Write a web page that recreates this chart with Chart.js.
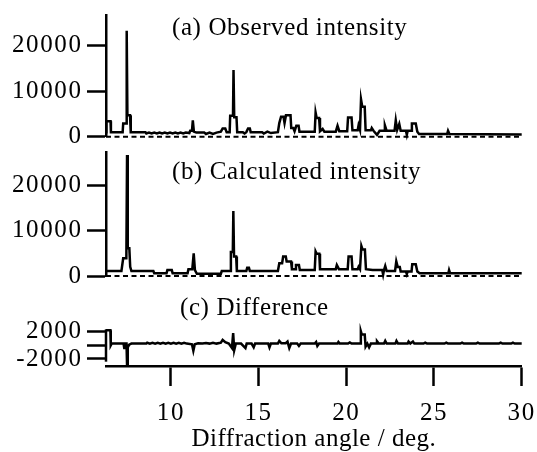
<!DOCTYPE html>
<html>
<head>
<meta charset="utf-8">
<script src="https://cdn.jsdelivr.net/npm/chart.js@4"></script>
<style>
html,body{margin:0;padding:0;background:#fff;}
#wrap{position:relative;width:537px;height:452px;overflow:hidden;background:#fff;}
canvas{position:absolute;left:0;}
</style>
</head>
<body>
<div id="wrap">
<canvas id="ca" width="537" height="150" style="top:0px;width:537px;height:150px"></canvas>
<canvas id="cb" width="537" height="140" style="top:145px;width:537px;height:140px"></canvas>
<canvas id="cc" width="537" height="167" style="top:285px;width:537px;height:167px"></canvas>
</div>
<script>
// ---- data ----
const angleMin = 6.3, angleMax = 30;
const angleTicks = [10, 15, 20, 25, 30];
const intensityTicks = [0, 10000, 20000];
const diffTicks = [-2000, 0, 2000];
const panelTitles = ['(a) Observed intensity', '(b) Calculated intensity', '(c) Difference'];
const axisTitle = 'Diffraction angle / deg.';

const obsAngle = [6.30,6.32,6.56,6.58,7.25,7.28,7.45,7.48,7.52,7.67,7.71,8.55,8.60,8.75,8.90,9.05,9.20,9.35,9.50,9.65,9.80,9.95,10.10,10.25,10.40,10.55,10.70,10.85,11.05,11.10,11.20,11.25,11.31,11.45,11.90,12.00,12.20,12.40,12.60,12.85,12.95,13.10,13.18,13.35,13.38,13.54,13.57,13.61,13.74,13.78,14.10,14.20,14.30,14.40,14.50,14.55,15.20,15.30,15.50,15.70,16.10,16.18,16.28,16.42,16.48,16.56,16.82,16.86,16.98,17.05,17.15,17.28,17.33,18.20,18.25,18.31,18.45,18.50,18.65,18.75,19.40,19.50,19.60,20.05,20.10,20.30,20.35,20.65,20.70,20.78,20.84,20.91,21.05,21.10,21.40,21.45,21.55,21.75,21.90,22.15,22.20,22.30,22.75,22.82,22.90,23.02,23.10,23.40,23.45,23.50,23.70,23.74,23.96,24.05,24.15,25.75,25.80,25.88,30.00];
const obsIntensity = [1000,3400,3400,1000,1000,2900,2900,23300,4700,4700,1000,1000,700,900,700,900,700,900,700,900,700,900,700,900,700,900,700,900,800,1300,1300,3600,1100,900,900,600,900,600,900,1100,1800,1800,1000,1000,4600,4600,14650,4300,4300,1000,1000,700,1000,1800,1800,1000,1000,700,1100,800,1000,3000,4400,4400,3000,4700,4700,1900,1900,1200,2400,2400,1100,1100,5300,4100,4100,1200,1700,1100,1100,2400,1200,1200,4200,4200,1400,1400,2500,1500,8200,6600,6600,1400,1400,1900,1300,400,1300,1300,2500,1300,1300,3600,1500,2800,1300,1300,400,1300,1300,2900,2900,1100,600,600,1300,600,500];

const calcAngle = [6.30,7.18,7.28,7.46,7.50,7.54,7.63,7.68,7.75,9.00,9.05,9.75,9.80,10.05,10.10,10.95,11.00,11.22,11.30,11.37,11.48,12.85,12.90,13.38,13.42,13.53,13.56,13.60,13.72,13.76,14.30,14.35,14.45,14.50,16.10,16.18,16.34,16.40,16.55,16.60,16.85,16.90,17.08,17.13,17.30,17.35,18.20,18.25,18.31,18.46,18.50,19.40,19.46,19.58,20.08,20.13,20.30,20.35,20.65,20.70,20.78,20.86,20.93,21.06,21.12,21.50,22.05,22.10,22.15,22.22,22.30,22.78,22.85,22.93,23.05,23.10,23.40,23.45,23.50,23.72,23.76,23.96,24.05,24.18,25.82,25.86,25.92,30.00];
const calcIntensity = [1100,1100,3900,3900,26600,6100,6100,2000,1100,1100,600,600,1300,1300,600,600,1500,1500,5000,1300,500,500,1100,1100,5300,5300,14300,4300,4300,1100,1100,1800,1800,1100,1100,2800,2800,4300,4300,3200,3200,1500,1500,2400,2400,1300,1300,5400,4900,4900,1500,1500,2400,1500,1500,4300,4300,1500,1500,2000,1500,6600,5800,5800,1500,1300,1300,300,1300,2200,1100,1100,3200,2000,2000,1000,1000,400,1000,1000,2600,2600,1000,600,600,1300,600,600];

const diffAngle = [6.30,6.55,6.57,6.62,7.30,7.34,7.38,7.47,7.50,7.54,7.62,7.75,8.60,8.65,8.80,8.95,9.10,9.25,9.40,9.55,9.70,9.85,10.00,10.15,10.30,10.45,10.60,10.75,10.90,11.20,11.28,11.36,11.55,11.80,12.00,12.20,12.40,12.60,12.85,12.95,13.10,13.30,13.48,13.55,13.61,13.70,14.00,14.25,14.32,14.60,14.72,14.80,15.55,15.62,15.70,16.10,16.18,16.30,16.55,16.65,16.75,16.85,17.20,17.30,17.40,18.20,18.28,18.35,18.45,19.50,19.55,19.62,20.10,20.20,20.30,20.80,20.83,20.88,21.05,21.10,21.20,21.30,21.40,21.70,21.75,21.85,22.15,22.22,22.30,22.80,22.86,22.95,23.50,23.55,23.65,23.80,23.88,24.40,24.50,24.60,25.60,25.70,25.80,26.50,26.60,26.70,27.40,27.50,27.60,28.70,28.80,28.90,29.40,29.50,29.60,30.00];
const diffValue = [2200,2200,0,250,250,-400,250,250,-2900,-300,100,250,250,380,250,380,250,380,250,380,250,380,250,380,250,380,250,380,250,150,-800,150,300,250,350,250,380,250,380,800,450,250,-400,1800,-700,250,250,-400,250,250,-300,250,250,-300,250,250,650,300,300,550,-400,250,250,-100,250,250,480,-100,250,250,480,250,250,420,250,250,2050,1600,1600,-200,250,-300,250,250,600,250,250,650,250,250,650,250,250,550,250,550,250,250,400,250,250,400,250,250,400,250,250,400,250,250,400,250,250,400,250,250];

// ---- helpers ----
const FONT = 'Liberation Serif';
const pts = (xs, ys) => xs.map((x, i) => ({x: x, y: ys[i]}));

const spacing = {
  id: 'spacing',
  beforeDraw(chart) { chart.ctx.letterSpacing = '1.6px'; },
  afterDatasetsDraw(chart) { chart.ctx.letterSpacing = '0.5px'; }
};

const panelText = {
  id: 'panelText',
  afterDraw(chart, args, opts) {
    const ctx = chart.ctx;
    ctx.save();
    ctx.letterSpacing = '0.6px';
    ctx.font = '25px "' + FONT + '"';
    ctx.fillStyle = '#000';
    ctx.textBaseline = 'alphabetic';
    ctx.textAlign = 'left';
    ctx.fillText(opts.text, opts.x, opts.y);
    ctx.restore();
    ctx.letterSpacing = '0px';
  }
};

const leftAxisLine = {
  id: 'leftAxisLine',
  beforeDatasetsDraw(chart, args, opts) {
    if (!opts.draw) return;
    const s = chart.scales.y;
    const ctx = chart.ctx;
    ctx.save();
    ctx.strokeStyle = '#000';
    ctx.lineWidth = 2.5;
    ctx.beginPath();
    ctx.moveTo(s.right, s.getPixelForValue(opts.from));
    ctx.lineTo(s.right, s.getPixelForValue(opts.to));
    ctx.stroke();
    ctx.restore();
  }
};

function yAxis(min, max, tickVals, showBorder, hideZeroLabel) {
  return {
    type: 'linear', min: min, max: max,
    afterFit(s) { s.width = 106; s.paddingTop = 0; s.paddingBottom = 0; },
    afterBuildTicks(s) { s.ticks = tickVals.map(v => ({value: v})); },
    grid: {drawOnChartArea: false, drawTicks: true, tickLength: 19, tickWidth: 2.5, tickColor: '#000'},
    border: {display: showBorder, color: '#000', width: 2.5},
    ticks: {
      color: '#000', padding: 4.5, autoSkip: false,
      font: {family: FONT, size: 25, lineHeight: 1},
      callback: v => (hideZeroLabel && v === 0) ? '' : String(v)
    }
  };
}

function xAxis(show) {
  return {
    type: 'linear', min: angleMin, max: angleMax, display: show, z: 1,
    afterBuildTicks(s) { s.ticks = angleTicks.map(v => ({value: v})); },
    afterFit(s) { if (show) { s.height = 85.3; } s.paddingLeft = 0; s.paddingRight = 0; },
    grid: {z: 1, drawOnChartArea: false, drawTicks: true, tickLength: 19.3, tickWidth: 2.5, tickColor: '#000'},
    border: {z: 1, display: true, color: '#000', width: 2.5},
    ticks: {
      color: '#000', padding: 15, autoSkip: false, maxRotation: 0,
      font: {family: FONT, size: 25, lineHeight: 1},
      callback: v => String(v)
    },
    title: {
      display: show, text: axisTitle, color: '#000',
      font: {family: FONT, size: 25, lineHeight: 1},
      padding: {top: 0, bottom: 0}
    }
  };
}

const lineStyle = {borderColor: '#000', borderWidth: 2.5, pointRadius: 0, tension: 0, fill: false, clip: 6};
function zeroLine() {
  return {
    data: [{x: angleMin, y: 0}, {x: angleMax, y: 0}],
    borderColor: '#000', borderWidth: 2, borderDash: [5, 3.5], pointRadius: 0, fill: false, clip: 6
  };
}

const common = {
  responsive: false, animation: false, devicePixelRatio: 1,
  plugins: {legend: {display: false}, tooltip: {enabled: false}}
};

// (a) observed
new Chart(document.getElementById('ca'), {
  type: 'line',
  data: {datasets: [Object.assign({data: pts(obsAngle, obsIntensity)}, lineStyle), zeroLine()]},
  options: Object.assign({}, common, {
    layout: {padding: {left: 0, right: 15.3, top: 15, bottom: 13.3}},
    scales: {x: xAxis(false), y: yAxis(0, 26750, intensityTicks, true, false)},
    plugins: Object.assign({}, common.plugins, {panelText: {text: panelTitles[0], x: 172, y: 35}, leftAxisLine: {draw: false}})
  }),
  plugins: [spacing, panelText, leftAxisLine]
});

// (b) calculated
new Chart(document.getElementById('cb'), {
  type: 'line',
  data: {datasets: [Object.assign({data: pts(calcAngle, calcIntensity)}, lineStyle), zeroLine()]},
  options: Object.assign({}, common, {
    layout: {padding: {left: 0, right: 15.3, top: 7.7, bottom: 9}},
    scales: {x: xAxis(false), y: yAxis(0, 27100, intensityTicks, true, false)},
    plugins: Object.assign({}, common.plugins, {panelText: {text: panelTitles[1], x: 172, y: 34}, leftAxisLine: {draw: false}})
  }),
  plugins: [spacing, panelText, leftAxisLine]
});

// (c) difference
new Chart(document.getElementById('cc'), {
  type: 'line',
  data: {datasets: [Object.assign({data: pts(diffAngle, diffValue)}, lineStyle)]},
  options: Object.assign({}, common, {
    layout: {padding: {left: 0, right: 15.3, top: 44.3, bottom: 0}},
    scales: {x: xAxis(true), y: yAxis(-3135, 2345, diffTicks, false, true)},
    plugins: Object.assign({}, common.plugins, {panelText: {text: panelTitles[2], x: 180, y: 30}, leftAxisLine: {draw: true, from: 2345, to: -2400}})
  }),
  plugins: [spacing, panelText, leftAxisLine]
});
</script>
</body>
</html>
